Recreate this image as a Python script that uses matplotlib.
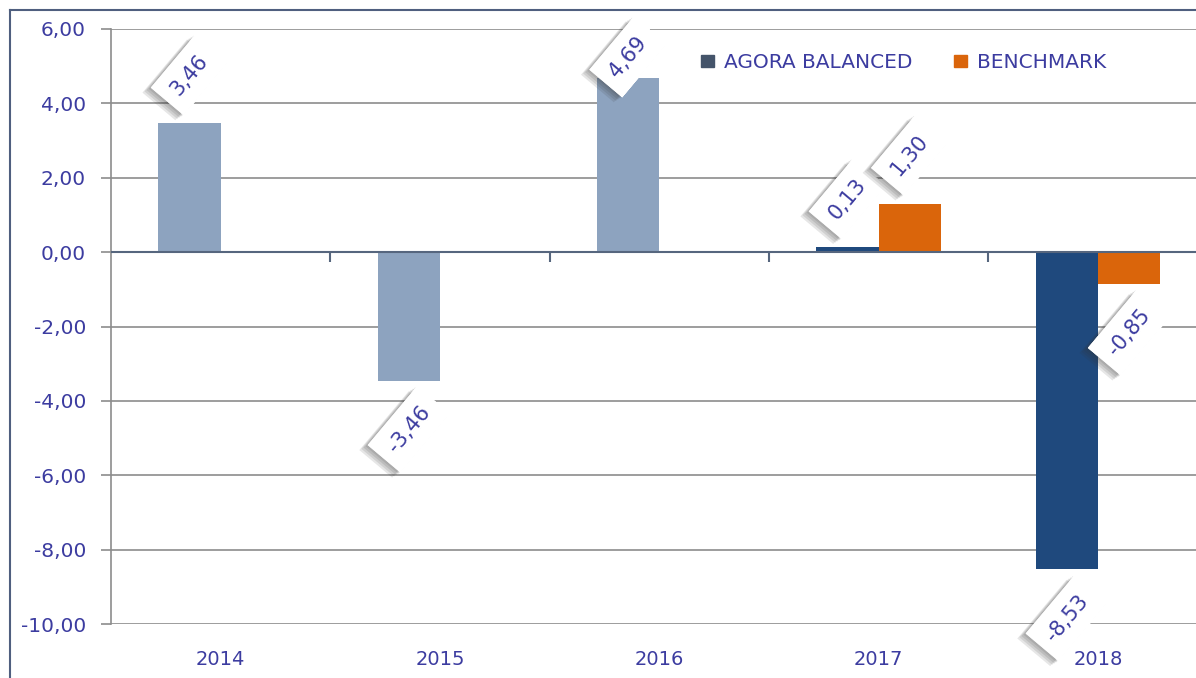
import matplotlib.pyplot as plt
import matplotlib.patheffects as pe
from matplotlib.lines import Line2D
from matplotlib.patches import Patch
import numpy as np

years = ['2014', '2015', '2016', '2017', '2018']
agora = [3.46, -3.46, 4.69, 0.13, -8.53]
benchmark = [None, None, None, 1.30, -0.85]
# years shown in the lighter shade (fund history before the benchmark existed)
light_years = ['2014', '2015', '2016']

NAVY = '#1F497D'
LIGHT = '#8DA3BF'
ORANGE = '#DA650B'
TXT = '#3C3CA0'
FONT = 'DejaVu Sans'

W, H = 1196, 678
fig = plt.figure(figsize=(W / 100, H / 100), dpi=100)
left, right, top, bottom = 111, 1207.5, 29, 624
ax = fig.add_axes([left / W, 1 - bottom / H, (right - left) / W, (bottom - top) / H])

x = np.arange(len(years))
bw = 0.284

# soft drop shadow: a few faint offset copies of the box
shadow = [pe.withSimplePatchShadow(offset=(-o, -o * 0.6), shadow_rgbFace='#333333', alpha=0.12)
          for o in (1.5, 3, 4.5, 6)]

def label(xpos, val, off):
    sign = 1 if val >= 0 else -1
    t = ax.annotate(f'{val:.2f}'.replace('.', ','), (xpos, val),
                    xytext=(0, sign * off), textcoords='offset points',
                    ha='center', va='center', rotation=50, rotation_mode='anchor',
                    color=TXT, fontsize=15, family=FONT, zorder=5,
                    bbox=dict(boxstyle='square,pad=0.55', fc='white', ec='none'))
    t.get_bbox_patch().set_path_effects(shadow)

for i, (yr, a, b) in enumerate(zip(years, agora, benchmark)):
    col = LIGHT if yr in light_years else NAVY
    ax.bar(i - bw / 2, a, bw, color=col, zorder=3)
    off = 15 if yr == '2016' else 35
    label(i - bw / 2, a, off)
    if b is not None:
        ax.bar(i + bw / 2, b, bw, color=ORANGE, zorder=3)
        label(i + bw / 2, b, 35)

ax.set_ylim(-10, 6)
ax.set_xlim(-0.5, len(years) - 0.5)
ax.set_yticks(np.arange(-10, 7, 2))
ax.set_yticklabels([f'{v:.2f}'.replace('.', ',') for v in np.arange(-10, 7, 2)])
ax.set_xticks(x)
ax.set_xticklabels(years)
ax.grid(axis='y', color='#8C8C8C', lw=1.2, zorder=0)
ax.tick_params(axis='y', length=7, width=1.2, color='#8C8C8C', pad=11,
               labelsize=14.5, labelcolor=TXT)
ax.tick_params(axis='x', length=0, pad=19, labelsize=14, labelcolor=TXT)
for lab in ax.get_xticklabels() + ax.get_yticklabels():
    lab.set_family(FONT)
for s in ['top', 'right', 'bottom']:
    ax.spines[s].set_visible(False)
ax.spines['left'].set_color('#8C8C8C')
ax.spines['left'].set_linewidth(1.2)

# category axis at zero with boundary ticks
ax.axhline(0, color='#56667E', lw=1.5, zorder=4)
ax.vlines(x[:-1] + 0.5, -0.27, 0, color='#56667E', lw=1.5, zorder=4)

handles = [Patch(color='#44546A', label='AGORA BALANCED'),
           Patch(color=ORANGE, label='BENCHMARK')]
leg = ax.legend(handles=handles, loc='upper left', bbox_to_anchor=(0.522, 0.99),
                ncol=2, frameon=False, handlelength=0.6, handleheight=0.6,
                handletextpad=0.5, columnspacing=2.1,
                prop={'family': FONT, 'size': 14.5})
for t in leg.get_texts():
    t.set_color(TXT)

# outer frame lines (top and left)
fig.add_artist(Line2D([10 / W, 1], [1 - 10 / H, 1 - 10 / H], color='#4F5F7F', lw=1.5))
fig.add_artist(Line2D([10 / W, 10 / W], [0, 1 - 10 / H], color='#4F5F7F', lw=1.5))

fig.savefig('out.png', dpi=100)
